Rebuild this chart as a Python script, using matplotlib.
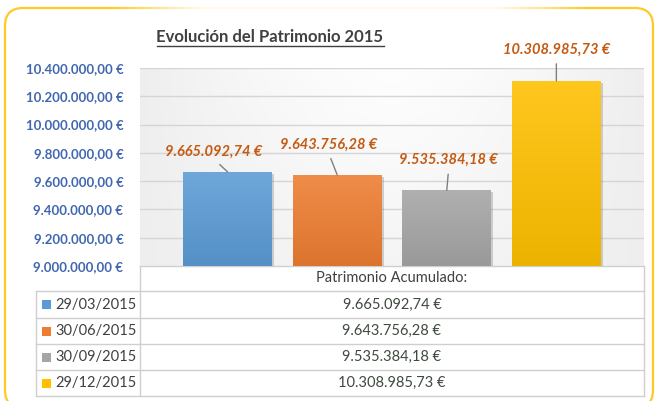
import numpy as np
import matplotlib
matplotlib.use('Agg')
import matplotlib.pyplot as plt
from matplotlib.colors import LinearSegmentedColormap, to_rgb
from matplotlib.patches import FancyBboxPatch, Rectangle
from matplotlib.lines import Line2D
from matplotlib.transforms import ScaledTranslation

plt.rcParams['font.family'] = ['Lato', 'DejaVu Sans']

# datos
fechas = ['29/03/2015', '30/06/2015', '30/09/2015', '29/12/2015']
patrimonio = [9665092.74, 9643756.28, 9535384.18, 10308985.73]
colores = ['#5B9BD5', '#ED7D31', '#A5A5A5', '#FFC000']
yticks = [9000000, 9200000, 9400000, 9600000, 9800000, 10000000, 10200000, 10400000]
titulo = 'Evolución del Patrimonio 2015'
cabecera = 'Patrimonio Acumulado:'

def eur(v):
    s = '{:,.2f}'.format(v)
    s = s.replace(',', '#').replace('.', ',').replace('#', '.')
    return s + ' €'

W, H = 656, 401
fig = plt.figure(figsize=(W / 100, H / 100), dpi=100)
fig.patch.set_facecolor('white')

# capa de fondo en pixeles (marco + tabla)
bg = fig.add_axes([0, 0, 1, 1])
bg.set_xlim(0, W)
bg.set_ylim(H, 0)
bg.axis('off')

frame = FancyBboxPatch((5, 8), 648, 400, boxstyle='round,pad=0,rounding_size=18',
                       fc='white', ec='#FFC000', lw=1.6, alpha=0.85)
bg.add_patch(frame)
# desvanecer el borde superior en el centro
fade = np.zeros((1, 400, 4))
fade[..., :3] = 1
xx = np.linspace(0, 1, 400)
fade[0, :, 3] = np.clip(np.sin(xx * np.pi) * 1.6, 0, 0.92)
bg.imshow(fade, extent=(110, 590, 11, 5), aspect='auto', zorder=3)

# grafico
x0, x1, ytop, ybot = 140, 644, 68, 266
ax = fig.add_axes([x0 / W, 1 - ybot / H, (x1 - x0) / W, (ybot - ytop) / H])

# fondo del area de trazado con degradado suave
gx = np.linspace(-1, 1, 200)
gy = np.linspace(0, 1, 100)
GX, GY = np.meshgrid(gx, gy)
val = 0.935 + 0.06 * np.clip(1 - np.abs(GX) ** 1.5, 0, 1) * (0.4 + 0.6 * GY)
ax.imshow(np.dstack([val, val, val]), extent=(0, 1, 0, 1), transform=ax.transAxes,
          aspect='auto', zorder=0, origin='lower')

for sp in ax.spines.values():
    sp.set_visible(False)
ax.set_yticks(yticks)
ax.set_yticklabels([eur(v) for v in yticks])
ax.tick_params(axis='y', length=0, pad=12, labelsize=9.5, labelcolor='#4066B0')
for t in ax.get_yticklabels():
    t.set_fontweight('bold')
ax.set_xticks([])
ax.yaxis.grid(True, color='#D5D5D5', lw=1)
ax.set_axisbelow(True)

xs = np.arange(len(patrimonio))
bars = ax.bar(xs, patrimonio, width=0.81, color=colores, zorder=2)
shift = ScaledTranslation(1.5 / 72, -1.5 / 72, fig.dpi_scale_trans)
for b, c in zip(bars, colores):
    sh = Rectangle((b.get_x(), b.get_y()), b.get_width(), b.get_height(),
                   fc='#707070', ec='none', alpha=0.3, zorder=1.5,
                   transform=ax.transData + shift)
    ax.add_patch(sh)
    r, g, bl = to_rgb(c)
    top = tuple(min(1, v + (1 - v) * 0.12) for v in (r, g, bl))
    bot = tuple(v * 0.93 for v in (r, g, bl))
    cmap = LinearSegmentedColormap.from_list('g', [bot, top])
    grad = np.linspace(0, 1, 100).reshape(-1, 1)
    im = ax.imshow(grad, cmap=cmap, origin='lower', aspect='auto', zorder=2.5,
                   extent=(b.get_x(), b.get_x() + b.get_width(), yticks[0], b.get_height()))
    im.set_clip_path(b)
ax.set_xlim(-0.8, 3.8)
ax.set_ylim(yticks[0], yticks[-1])

# etiquetas de datos
offs = [(-14, 20), (-9, 30), (2, 30), (0, 31)]
for xi, v, o in zip(xs, patrimonio, offs):
    ax.annotate(eur(v), xy=(xi, v), xytext=o, textcoords='offset pixels',
                ha='center', va='center', fontsize=10.5, fontweight='bold',
                fontstyle='italic', color='#C55A11', annotation_clip=False,
                arrowprops=dict(arrowstyle='-', color='#7F7F7F', lw=1,
                                shrinkA=3, shrinkB=0, relpos=(0.5, 0)))

# titulo subrayado
tt = fig.text(270 / W, 1 - 37 / H, titulo, ha='center', va='center',
              fontsize=12, fontweight='bold', color='#404040')
fig.canvas.draw()
bb = tt.get_window_extent()
uy = bb.y0 - 1
fig.add_artist(Line2D([bb.x0 / W, bb.x1 / W], [uy / H, uy / H],
                      transform=fig.transFigure, color='#404040', lw=1))

# tabla de datos
lc = '#CFCFCF'
tl, tm, tr = 36, 140, 644
rows = [266, 291, 318, 344, 370, 396]
bg.plot([tm, tr], [rows[0], rows[0]], color=lc, lw=1, zorder=4)
for yy in rows[1:]:
    bg.plot([tl, tr], [yy, yy], color=lc, lw=1, zorder=4)
bg.plot([tl, tl], [rows[1], rows[-1]], color=lc, lw=1, zorder=4)
bg.plot([tm, tm], [rows[0], rows[-1]], color=lc, lw=1, zorder=4)
bg.plot([tr, tr], [rows[0], rows[-1]], color=lc, lw=1, zorder=4)

bg.text((tm + tr) / 2, (rows[0] + rows[1]) / 2, cabecera, ha='center', va='center',
        fontsize=10.5, color='#404040', zorder=5)
for i, (f, v, c) in enumerate(zip(fechas, patrimonio, colores)):
    yc = (rows[i + 1] + rows[i + 2]) / 2
    bg.add_patch(Rectangle((42, yc - 4.5), 9, 9, fc=c, ec='none', zorder=5))
    bg.text(55, yc, f, ha='left', va='center', fontsize=10.5, color='#404040', zorder=5)
    bg.text((tm + tr) / 2, yc, eur(v), ha='center', va='center', fontsize=10.5,
            color='#3F4A3F', zorder=5)

fig.savefig('out.png', dpi=100)
